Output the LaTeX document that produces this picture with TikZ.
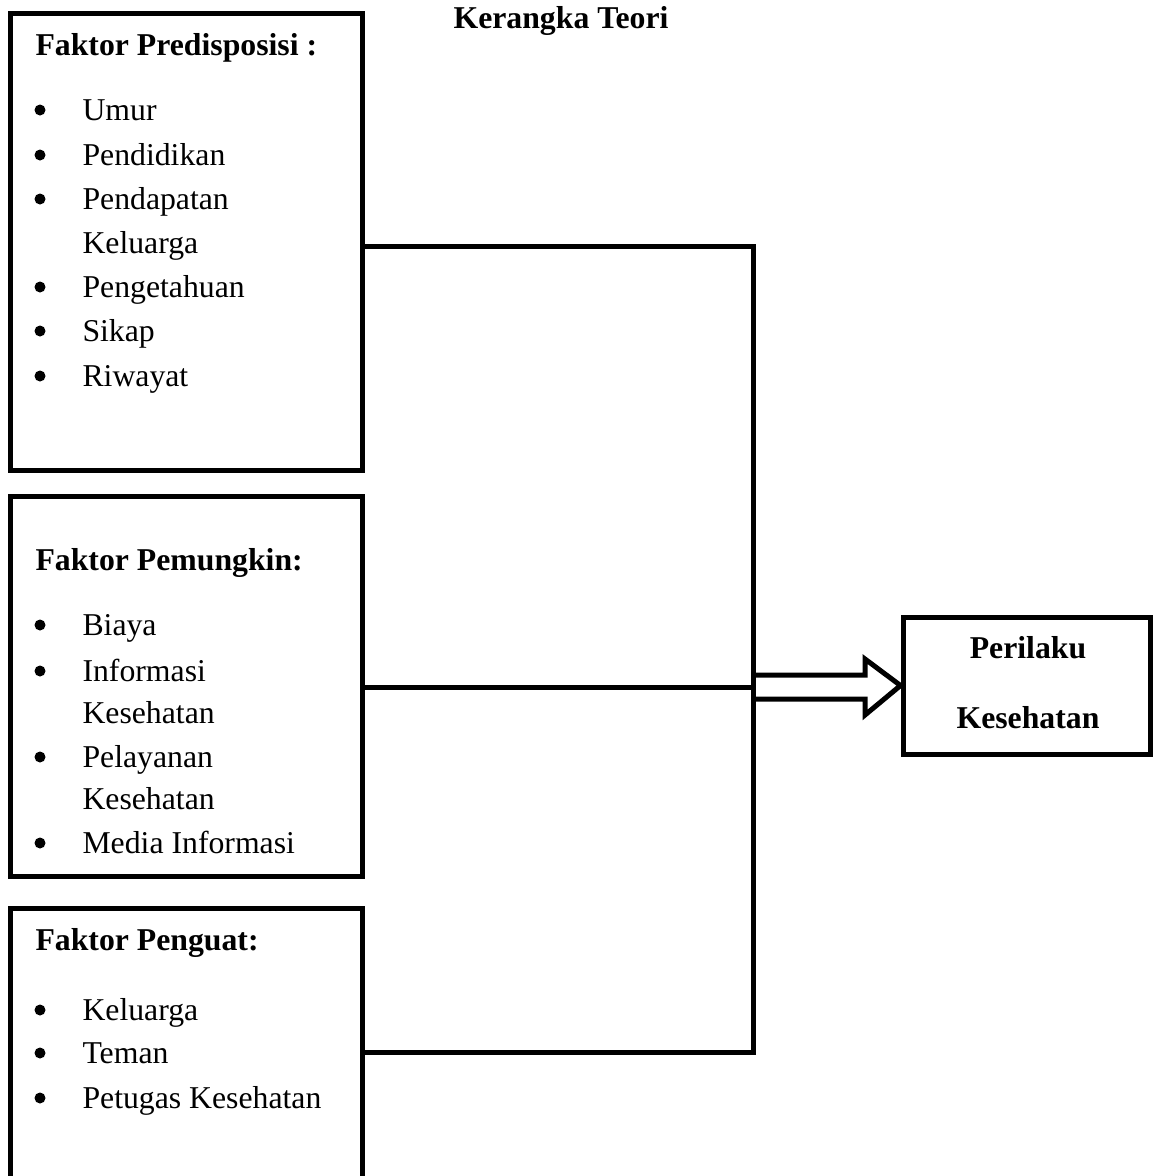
\documentclass[tikz,border=0pt]{standalone}
\usepackage{fontspec}
\setmainfont{Liberation Serif}
\begin{document}
\begin{tikzpicture}[x=0.4pt,y=-0.4pt,
  box/.style={draw,line width=2pt,inner sep=0pt,rectangle},
  conn/.style={draw,line width=2pt,line join=miter},
  head/.style={anchor=base west,inner sep=0pt,font=\fontsize{12.7pt}{15pt}\selectfont\bfseries},
  item/.style={anchor=base west,inner sep=0pt,font=\fontsize{12.7pt}{15pt}\selectfont},
  bul/.style={circle,fill=black,inner sep=0pt,minimum size=4.4pt,yshift=4pt}]
\path[use as bounding box,clip] (0,0) rectangle (1153,1176);

% title
\node[anchor=base,inner sep=0pt,font=\fontsize{12.7pt}{15pt}\selectfont\bfseries] (title) at (561,28) {Kerangka Teori};

% boxes
\node[box,minimum width=140.4pt,minimum height=182.8pt] (b1) at (186.5,241.5) {};
\node[box,minimum width=140.4pt,minimum height=152pt] (b2) at (186.5,686) {};
\node[box,minimum width=140.4pt,minimum height=136.8pt] (b3) at (186.5,1079) {};
\node[box,minimum width=98.8pt,minimum height=54.8pt] (out) at (1026.5,685.5) {};

% box 1 text
\node[head] (h1) at (35,55) {Faktor Predisposisi :};
\node[bul] (p1) at (40,120) {}; \node[item] (i1) at (82,120) {Umur};
\node[bul] (p2) at (40,165) {}; \node[item] (i2) at (82,165) {Pendidikan};
\node[bul] (p3) at (40,209) {}; \node[item] (i3) at (82,209) {Pendapatan};
\node[item] (i3b) at (82,253) {Keluarga};
\node[bul] (p4) at (40,297) {}; \node[item] (i4) at (82,297) {Pengetahuan};
\node[bul] (p5) at (40,341) {}; \node[item] (i5) at (82,341) {Sikap};
\node[bul] (p6) at (40,386) {}; \node[item] (i6) at (82,386) {Riwayat};

% box 2 text
\node[head] (h2) at (35,570) {Faktor Pemungkin:};
\node[bul] (q1) at (40,635) {}; \node[item] (j1) at (82,635) {Biaya};
\node[bul] (q2) at (40,681) {}; \node[item] (j2) at (82,681) {Informasi};
\node[item] (j2b) at (82,723) {Kesehatan};
\node[bul] (q3) at (40,767) {}; \node[item] (j3) at (82,767) {Pelayanan};
\node[item] (j3b) at (82,809) {Kesehatan};
\node[bul] (q4) at (40,853) {}; \node[item] (j4) at (82,853) {Media Informasi};

% box 3 text
\node[head] (h3) at (35,950) {Faktor Penguat:};
\node[bul] (r1) at (40,1020) {}; \node[item] (k1) at (82,1020) {Keluarga};
\node[bul] (r2) at (40,1063) {}; \node[item] (k2) at (82,1063) {Teman};
\node[bul] (r3) at (40,1108) {}; \node[item] (k3) at (82,1108) {Petugas Kesehatan};

% output text
\node[anchor=base,inner sep=0pt,font=\fontsize{12.7pt}{15pt}\selectfont\bfseries] (o1) at (1028,658) {Perilaku};
\node[anchor=base,inner sep=0pt,font=\fontsize{12.7pt}{15pt}\selectfont\bfseries] (o2) at (1028,728) {Kesehatan};

% connectors
\coordinate (t1) at (753,246);
\coordinate (j) at (753,687);
\coordinate (t3) at (753,1052);
\draw[conn] (b1.east |- t1) -- (t1) -- (t3) -- (b3.east |- t3);
\draw[conn] (b2.east |- j) -- (j);

% hollow arrow
\draw[conn] ([yshift=0.4*12pt]j) -- (865,675) -- (865,659) -- (out.west) -- (865,715) -- (865,699) -- ([yshift=-0.4*12pt]j);
\end{tikzpicture}
\end{document}
